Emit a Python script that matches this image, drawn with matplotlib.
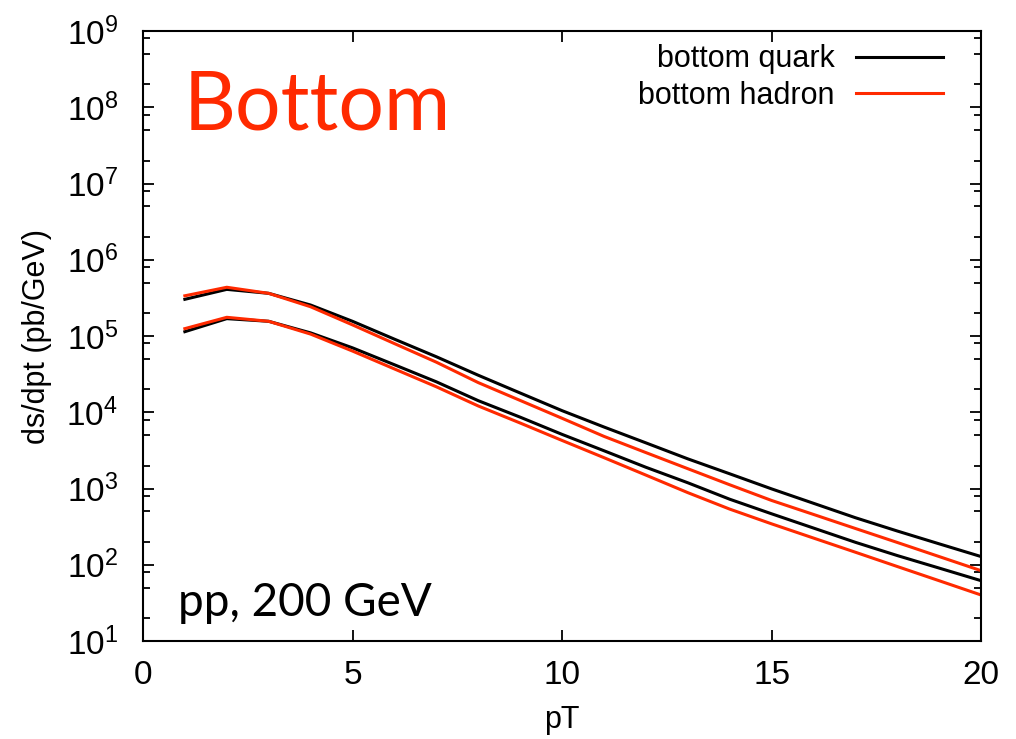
import matplotlib
matplotlib.use('Agg')
import matplotlib.pyplot as plt
from matplotlib.ticker import LogLocator, MultipleLocator, NullFormatter

plt.rcParams['font.family'] = ['Liberation Sans', 'DejaVu Sans']
plt.rcParams['mathtext.fontset'] = 'custom'
plt.rcParams['mathtext.rm'] = 'Liberation Sans'

pt = [1, 2, 3, 4, 5, 6, 7, 8, 9, 10, 11, 12, 13, 14, 15, 16, 17, 18, 19, 20]

# two sets of curves, quark level vs hadron level
quark_a = [3.03e5, 4.09e5, 3.63e5, 2.55e5, 1.56e5, 9.1e4, 5.35e4, 3.06e4, 1.79e4, 1.05e4,
           6.41e3, 3.97e3, 2.45e3, 1.56e3, 989, 640, 414, 277, 188, 128]
hadron_a = [3.37e5, 4.36e5, 3.63e5, 2.42e5, 1.40e5, 7.96e4, 4.54e4, 2.45e4, 1.43e4, 8.34e3,
            4.83e3, 2.96e3, 1.82e3, 1.12e3, 697, 457, 299, 196, 128, 83.6]
quark_b = [1.14e5, 1.69e5, 1.56e5, 1.10e5, 7.0e4, 4.2e4, 2.51e4, 1.42e4, 8.63e3, 5.13e3,
           3.13e3, 1.90e3, 1.19e3, 724, 466, 303, 197, 132, 90.4, 61.8]
hadron_b = [1.25e5, 1.76e5, 1.56e5, 1.06e5, 6.35e4, 3.70e4, 2.16e4, 1.21e4, 7.23e3, 4.27e3,
            2.54e3, 1.50e3, 883, 537, 344, 224, 146, 94.8, 61.7, 40.1]

RED = '#ff2a00'

fig = plt.figure(figsize=(10.16, 7.39), dpi=100)
ax = fig.add_axes([0.1407, 0.1326, 0.825, 0.8254])

ax.plot(pt, quark_a, color='black', lw=2.2, label='bottom quark')
ax.plot(pt, hadron_a, color=RED, lw=2.2, label='bottom hadron')
ax.plot(pt, quark_b, color='black', lw=2.2)
ax.plot(pt, hadron_b, color=RED, lw=2.2)

ax.set_yscale('log')
ax.set_xlim(0, 20)
ax.set_ylim(10, 1e9)
ax.xaxis.set_major_locator(MultipleLocator(5))
ax.yaxis.set_major_locator(LogLocator(base=10, numticks=20))
ax.yaxis.set_minor_locator(LogLocator(base=10, subs=(2, 5, 8), numticks=20))
ax.yaxis.set_minor_formatter(NullFormatter())

ax.tick_params(which='both', direction='in', top=True, right=True, labelsize=24, width=1.3)
ax.tick_params(which='major', length=8)
ax.tick_params(axis='y', which='major', pad=18)
ax.tick_params(axis='x', which='major', pad=14)
ax.tick_params(which='minor', length=5)
for s in ax.spines.values():
    s.set_linewidth(1.5)

ax.set_xlabel('pT', fontsize=22, labelpad=10)
ax.set_ylabel('ds/dpt (pb/GeV)', fontsize=22, labelpad=10)

leg = ax.legend(loc='upper right', frameon=False, markerfirst=False, fontsize=22,
                handlelength=2.85, handletextpad=0.7, labelspacing=0.2,
                borderaxespad=0.0, borderpad=0.0, bbox_to_anchor=(0.9546, 0.978))

ax.text(0.048, 0.937, 'Bottom', transform=ax.transAxes, color=RED, fontsize=58,
        family=['Lato', 'DejaVu Sans'], va='top', ha='left')
ax.text(0.042, 0.028, 'pp, 200 GeV', transform=ax.transAxes, color='black', fontsize=33,
        family=['Lato', 'DejaVu Sans'], va='bottom', ha='left')

fig.savefig('out.png', dpi=100)
